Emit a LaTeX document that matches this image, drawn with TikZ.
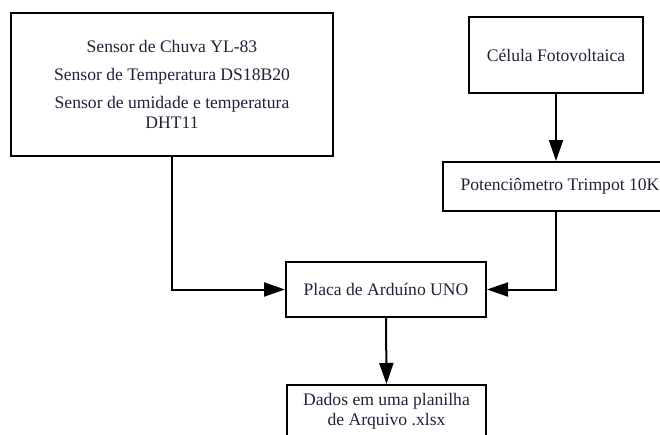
\documentclass[tikz,border=0pt]{standalone}
\usepackage{fontspec}
\setmainfont{Liberation Serif}
\usetikzlibrary{arrows.meta}
\definecolor{txtnavy}{HTML}{22223A}
\begin{document}
\begin{tikzpicture}[x=1pt,y=1pt,
  box/.style={draw=black, line width=2pt, fill=white, align=center, inner sep=0pt,
    font=\fontsize{17.6}{20}\selectfont, text=txtnavy},
  arr/.style={line width=2pt, -{Triangle[length=21pt,width=14pt]}}]
\useasboundingbox (0,0) rectangle (660,-434);
\node[box, minimum width=322, minimum height=143] (sens) at (172,-84.5)
  {Sensor de Chuva YL-83\\[8pt]Sensor de Temperatura DS18B20\\[8pt]Sensor de umidade e temperatura\\DHT11};
\node[box, minimum width=174, minimum height=76] (cel) at (556,-55) {Célula Fotovoltaica};
\node[box, minimum width=234, minimum height=49] (pot) at (560,-186.5) {Potenciômetro Trimpot 10K};
\node[box, minimum width=200, minimum height=55] (ard) at (386,-289.5) {Placa de Arduíno UNO};
\node[box, minimum width=199, minimum height=52] (dados) at (386.5,-411) {Dados em uma planilha\\de Arquivo .xlsx};
\draw[arr] (cel.south) -- (cel.south |- pot.north);
\draw[arr] (sens.south) |- (ard.west);
\draw[arr] (cel.south |- pot.south) |- (ard.east);
\draw[arr] (ard.south) -- (dados.north);
\end{tikzpicture}
\end{document}
